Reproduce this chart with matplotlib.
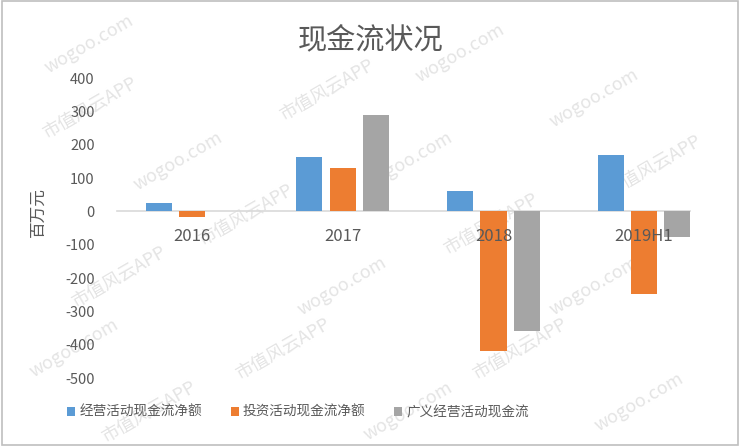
import numpy as np
import matplotlib
matplotlib.use("Agg")
import matplotlib.pyplot as plt
from matplotlib.patches import Rectangle

plt.rcParams['font.family'] = ['Noto Sans CJK SC', 'DejaVu Sans']

# data (百万元)
years = ["2016", "2017", "2018", "2019H1"]
operating = [24, 162, 60, 168]
investing = [-18, 129, -420, -249]
broad_operating = [0, 288, -360, -78]
series_names = ["经营活动现金流净额", "投资活动现金流净额", "广义经营活动现金流"]
colors = ["#5B9BD5", "#ED7D31", "#A5A5A5"]
yticks = [400, 300, 200, 100, 0, -100, -200, -300, -400, -500]

text_grey = "#595959"

fig = plt.figure(figsize=(7.43, 4.47), dpi=100)
ax = fig.add_axes([117 / 743, 1 - 378 / 447, (690 - 117) / 743, 300 / 447])

# watermark (faint, diagonal)
marks = [
    (0.12, 0.90, "wogoo.com"), (0.62, 0.88, "wogoo.com"),
    (0.12, 0.76, "市值风云APP"), (0.44, 0.80, "市值风云APP"), (0.80, 0.78, "wogoo.com"),
    (0.24, 0.64, "wogoo.com"), (0.55, 0.64, "wogoo.com"), (0.88, 0.63, "市值风云APP"),
    (0.33, 0.52, "市值风云APP"), (0.66, 0.50, "市值风云APP"),
    (0.16, 0.38, "市值风云APP"), (0.46, 0.36, "wogoo.com"), (0.80, 0.36, "wogoo.com"),
    (0.10, 0.22, "wogoo.com"), (0.38, 0.22, "市值风云APP"), (0.70, 0.22, "市值风云APP"),
    (0.20, 0.08, "市值风云APP"), (0.55, 0.08, "wogoo.com"), (0.86, 0.10, "wogoo.com"),
]
for mx, my, txt in marks:
    fig.text(mx, my, txt, rotation=30, fontsize=13, color="#e4e4e4",
             ha="center", va="center", zorder=-1)

x = np.arange(len(years))
w = 0.173
step = 0.222
for i, vals in enumerate([operating, investing, broad_operating]):
    ax.bar(x + (i - 1) * step, vals, width=w, color=colors[i],
           label=series_names[i], zorder=2)

ax.set_axisbelow(False)
ax.set_xlim(-0.5, 3.305)
ax.set_ylim(-500, 400)
ax.set_yticks(yticks)
ax.set_yticklabels([str(v) for v in yticks])
ax.set_xticks(x)
ax.set_xticklabels(years)

for s in ["top", "right", "left"]:
    ax.spines[s].set_visible(False)
ax.spines["bottom"].set_position(("data", 0))
ax.spines["bottom"].set_color("#D9D9D9")
ax.spines["bottom"].set_linewidth(1.2)
ax.spines["bottom"].set_zorder(1)
ax.xaxis.set_zorder(3)

ax.tick_params(axis="y", length=0, pad=16, labelsize=10.5, labelcolor=text_grey)
ax.tick_params(axis="x", length=0, pad=12, labelsize=12, labelcolor=text_grey)
ax.patch.set_alpha(0)

fig.text(38 / 743, 1 - 212 / 447, "百万元", rotation=90, fontsize=12,
         color=text_grey, ha="center", va="center")
fig.text(371 / 743, 1 - 40 / 447, "现金流状况", fontsize=21,
         color=text_grey, ha="center", va="center")

fig.legend(loc="center left", bbox_to_anchor=(55 / 743, 1 - 412 / 447),
           ncol=3, frameon=False, fontsize=9.8, labelcolor=text_grey,
           handlelength=0.6, handleheight=0.6, handletextpad=0.3,
           columnspacing=2.1)

# frame
fig.patches.append(Rectangle((0.003, 0.004), 0.99, 0.993, transform=fig.transFigure,
                             fill=False, edgecolor="#bfbfbf", linewidth=1.2))

fig.savefig("out.png", dpi=100)
